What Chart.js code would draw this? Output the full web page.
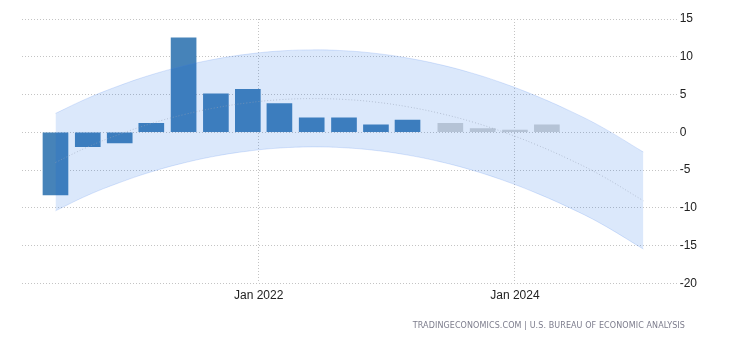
<!DOCTYPE html>
<html><head><meta charset="utf-8">
<script src="https://cdn.jsdelivr.net/npm/chart.js@4.4.1/dist/chart.umd.min.js"></script>
<style>
html,body{margin:0;padding:0;background:#fff;width:730px;height:340px;overflow:hidden}
#wrap{position:relative;width:730px;height:340px}
#src{position:absolute;right:45px;top:321px;font:8px 'DejaVu Sans',Verdana,sans-serif;color:#7c7c8c;white-space:nowrap;letter-spacing:0.1px}
</style></head><body>
<div id="wrap"><canvas id="c" width="730" height="340"></canvas><div id="src">TRADINGECONOMICS.COM | U.S. BUREAU OF ECONOMIC ANALYSIS</div></div>
<script>
// ---- data ----
const actualDates = ['2020-06','2020-09','2020-12','2021-03','2021-06','2021-09','2021-12','2022-03','2022-06','2022-09','2022-12','2023-03'];
const actualValues = [-8.3,-1.9,-1.4,1.2,12.5,5.1,5.7,3.8,1.9,1.9,1.0,1.6];
const forecastDates = ['2023-07','2023-10','2024-01','2024-04'];
const forecastValues = [1.2,0.5,0.3,1.0];
const bandDates = ['2020-06','2020-09','2020-12','2021-03','2021-06','2021-09','2021-12','2022-03','2022-06','2022-09','2022-12','2023-03','2023-06','2023-09','2023-12','2024-03','2024-06','2024-09','2025-01'];
const trendValues = [-4.0,-1.94,-0.26,1.16,2.33,3.25,3.90,4.31,4.46,4.35,3.99,3.38,2.51,1.38,0.00,-1.63,-3.52,-5.67,-9.07];
const upperValues = [2.5,4.51,6.19,7.61,8.78,9.70,10.35,10.76,10.91,10.80,10.44,9.83,8.96,7.83,6.45,4.82,2.93,0.78,-2.62];
const lowerValues = [-10.4,-8.34,-6.66,-5.24,-4.07,-3.15,-2.50,-2.09,-1.94,-2.05,-2.41,-3.02,-3.89,-5.02,-6.40,-8.03,-9.92,-12.07,-15.47];
const xTickDates = ['2022-01','2024-01'];
const xTickLabels = ['Jan 2022','Jan 2024'];
const yTicks = [15,10,5,0,-5,-10,-15,-20];

// ---- helpers ----
function day(s){const p=s.split('-').map(Number);return Date.UTC(p[0],p[1]-1,p[2]||1)/864e5;}
function pts(dates,vals){return dates.map((d,i)=>({x:day(d),y:vals[i]}));}
const ref = day('2022-01');

Chart.defaults.font.family = "'Liberation Sans', Arial, sans-serif";
Chart.defaults.font.size = 12;
Chart.defaults.color = '#222';

new Chart(document.getElementById('c'), {
  type: 'bar',
  data: {
    datasets: [
      {type:'line', data: pts(bandDates, trendValues), borderColor:'rgba(150,160,180,0.55)', borderWidth:1, borderDash:[1,2], pointRadius:0, tension:0.4, fill:false, order:0},
      {type:'line', data: pts(bandDates, upperValues), borderColor:'rgba(60,120,235,0.18)', backgroundColor:'rgba(0,90,230,0.14)', borderWidth:1, pointRadius:0, tension:0.4, fill:'+1', order:1},
      {type:'line', data: pts(bandDates, lowerValues), borderColor:'rgba(60,120,235,0.18)', borderWidth:1, pointRadius:0, tension:0.4, fill:false, order:1},
      {type:'bar', data: pts(actualDates, actualValues), backgroundColor:'rgb(70,131,185)', barThickness:25, grouped:false, order:2},
      {type:'bar', data: pts(forecastDates, forecastValues), backgroundColor:'rgb(211,212,212)', barThickness:25, grouped:false, order:2}
    ]
  },
  options: {
    responsive:false, animation:false, devicePixelRatio:1,
    layout:{padding:{left:22, top:19, right:0, bottom:0}},
    plugins:{legend:{display:false}, tooltip:{enabled:false}},
    scales:{
      x:{
        type:'linear', offset:false,
        min: ref - 674.4, max: ref + 1190.9,
        afterBuildTicks: s => { s.ticks = xTickDates.map(d=>({value:day(d)})); },
        afterFit: s => { s.height = 56.7; },
        ticks:{ padding:5, maxRotation:0, autoSkip:false, color:'#222',
          callback: v => { const i = xTickDates.findIndex(d=>day(d)===v); return i>=0 ? xTickLabels[i] : ''; } },
        grid:{ offset:false, drawTicks:false, color:'#c4c4c4', lineWidth:1 },
        border:{ display:false, dash:[1,2] }
      },
      y:{
        position:'right', min:-20, max:15,
        afterBuildTicks: s => { s.ticks = yTicks.map(v=>({value:v})); },
        afterFit: s => { s.width = 53.3; },
        ticks:{ padding:3, color:'#222' },
        grid:{ drawTicks:false, color:'#c4c4c4', lineWidth:1 },
        border:{ display:false, dash:[1,2] }
      }
    }
  }
});
</script>
</body></html>
